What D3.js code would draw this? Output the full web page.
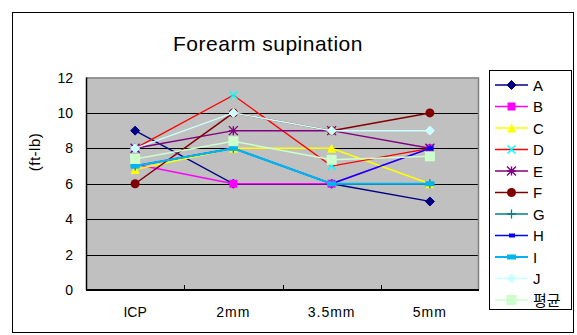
<!DOCTYPE html>
<html><head><meta charset="utf-8">
<script src="https://cdn.jsdelivr.net/npm/d3@7"></script>
<style>
body{margin:0;background:#fff;}
text{font-family:"Liberation Sans","Noto Sans CJK KR",Arial,sans-serif;fill:#000;}
</style></head>
<body><svg id="c" width="577" height="335"></svg>
<script>
const categories = ["ICP","2mm","3.5mm","5mm"];
const seriesNames = ["A","B","C","D","E","F","G","H","I","J","평균"];
const A = [9, 6, 6, 5];
const B = [7.1, 6, 6, 8];
const C = [6.8, 8, 8, 6];
const D = [8, 11, 7, 8];
const E = [8, 9, 9, 8];
const F = [6, 10, 9, 10];
const G = [7, 8, 6, 6];
const H = [7, 8, 6, 8];
const I = [7, 8, 6, 6];
const J = [8, 10, 9, 9];
const AVG = [7.4, 8.4, 7.35, 7.55];
const yTicks = [0, 2, 4, 6, 8, 10, 12];

const values = [A,B,C,D,E,F,G,H,I,J,AVG];
const styles = [
  {line:"#000080", mk:"diamond", fill:"#000080", stroke:"#000080", size:9, w:1.3},
  {line:"#FF00FF", mk:"square", fill:"#FF00FF", stroke:"#FF00FF", size:8, w:1.5},
  {line:"#FFFF00", mk:"triangle", fill:"#FFFF00", stroke:"#FFFF00", size:9, w:1.5},
  {line:"#FF0000", mk:"x", fill:"none", stroke:"#00FFFF", size:8, w:1.3},
  {line:"#800080", mk:"star", fill:"none", stroke:"#800080", size:9, w:1.5},
  {line:"#800000", mk:"circle", fill:"#800000", stroke:"#800000", size:9, w:1.5},
  {line:"#008080", mk:"plus", fill:"none", stroke:"#008080", size:9, w:1.3},
  {line:"#0000FF", mk:"smallsq", fill:"#0000FF", stroke:"#0000FF", size:5, w:1.5},
  {line:"#00B4F0", mk:"rect", fill:"#00B4F0", stroke:"#00B4F0", size:9, w:2.2},
  {line:"#CCFFFF", mk:"diamond", fill:"#CCFFFF", stroke:"#CCFFFF", size:9, w:1.5},
  {line:"#CCFFCC", mk:"square", fill:"#CCFFCC", stroke:"#CCFFCC", size:10, w:1.5}
];

const svg = d3.select("#c");
svg.append("rect").attr("x",12.5).attr("y",12.5).attr("width",561).attr("height",320)
  .attr("fill","#fff").attr("stroke","#000").attr("stroke-width",1);

const L = 86, R = 479, T = 77.5, Bm = 290;
const x = d3.scalePoint().domain(categories).range([L, R]).padding(0.5);
const xb = d3.scaleBand().domain(categories).range([L, R]);
const y = d3.scaleLinear().domain([0, 12]).range([Bm, T]);

svg.append("rect").attr("x",L).attr("y",T).attr("width",R-L).attr("height",Bm-T).attr("fill","#C0C0C0");
svg.append("g").selectAll("line").data(yTicks.filter(d=>d>0 && d<12)).join("line")
  .attr("x1",L).attr("x2",R).attr("y1",d=>Math.round(y(d))+0.5).attr("y2",d=>Math.round(y(d))+0.5)
  .attr("stroke","#000").attr("stroke-width",1);
svg.append("path").attr("d",`M${L},${T+0.5}H${R-0.5}V${Bm}`).attr("fill","none").attr("stroke","#808080").attr("stroke-width",1.5);
svg.append("line").attr("x1",L+0.5).attr("x2",L+0.5).attr("y1",T).attr("y2",Bm).attr("stroke","#000").attr("stroke-width",1.5);
svg.append("line").attr("x1",L).attr("x2",R).attr("y1",Bm).attr("y2",Bm).attr("stroke","#000").attr("stroke-width",2);
svg.append("g").selectAll("line").data(categories.slice(1)).join("line")
  .attr("x1",d=>Math.round(xb(d))+0.5).attr("x2",d=>Math.round(xb(d))+0.5).attr("y1",Bm-5).attr("y2",Bm)
  .attr("stroke","#000");

svg.append("g").selectAll("text").data(yTicks).join("text")
  .attr("x",73).attr("y",d=>y(d)+5).attr("text-anchor","end").attr("font-size",14).text(d=>d);
svg.append("g").selectAll("text").data(categories).join("text")
  .attr("x",d=>x(d)).attr("y",317).attr("text-anchor","middle").attr("font-size",14)
  .attr("letter-spacing",d=>d==="ICP"?0:1).text(d=>d);
svg.append("text").attr("transform","translate(40,152) rotate(-90)").attr("text-anchor","middle")
  .attr("font-size",15).attr("letter-spacing",0.5).text("(ft-lb)");
svg.append("text").attr("x",268).attr("y",51).attr("text-anchor","middle").attr("font-size",21).attr("letter-spacing",0.5).text("Forearm supination");

function marker(g, st, cx, cy){
  const s = st.size, h = s/2;
  if(st.mk==="diamond") g.append("path").attr("d",`M${cx},${cy-h}L${cx+h},${cy}L${cx},${cy+h}L${cx-h},${cy}Z`).attr("fill",st.fill).attr("stroke",st.stroke);
  else if(st.mk==="square") g.append("rect").attr("x",cx-h).attr("y",cy-h).attr("width",s).attr("height",s).attr("fill",st.fill);
  else if(st.mk==="smallsq") g.append("rect").attr("x",cx-h).attr("y",cy-2).attr("width",s+1).attr("height",4).attr("fill",st.fill);
  else if(st.mk==="rect") g.append("rect").attr("x",cx-h).attr("y",cy-2.5).attr("width",s).attr("height",5).attr("fill",st.fill);
  else if(st.mk==="triangle") g.append("path").attr("d",`M${cx},${cy-h}L${cx+h},${cy+h}L${cx-h},${cy+h}Z`).attr("fill",st.fill);
  else if(st.mk==="circle") g.append("circle").attr("cx",cx).attr("cy",cy).attr("r",h).attr("fill",st.fill);
  else if(st.mk==="x") g.append("path").attr("d",`M${cx-h},${cy-h}L${cx+h},${cy+h}M${cx+h},${cy-h}L${cx-h},${cy+h}`).attr("stroke",st.stroke).attr("stroke-width",1.5);
  else if(st.mk==="plus") g.append("path").attr("d",`M${cx-h},${cy}L${cx+h},${cy}M${cx},${cy-h}L${cx},${cy+h}`).attr("stroke",st.stroke).attr("stroke-width",1.3);
  else if(st.mk==="star") g.append("path").attr("d",`M${cx-h},${cy-h}L${cx+h},${cy+h}M${cx+h},${cy-h}L${cx-h},${cy+h}M${cx},${cy-h}L${cx},${cy+h}M${cx-h},${cy}L${cx+h},${cy}`).attr("stroke",st.stroke).attr("stroke-width",1.4);
}

const line = d3.line().x((d,i)=>x(categories[i])).y(d=>y(d));
const plot = svg.append("g");
values.forEach((vals,si)=>{
  const st = styles[si];
  const g = plot.append("g");
  g.append("path").attr("d",line(vals)).attr("fill","none").attr("stroke",st.line).attr("stroke-width",st.w);
  vals.forEach((v,i)=>marker(g, st, x(categories[i]), y(v)));
});

svg.append("rect").attr("x",489.5).attr("y",70.5).attr("width",82).attr("height",239).attr("fill","#fff").attr("stroke","#000");
const ly = d3.scalePoint().domain(seriesNames).range([85, 300]);
seriesNames.forEach((n,si)=>{
  const st = styles[si];
  const g = svg.append("g");
  const yy = ly(n);
  g.append("line").attr("x1",495).attr("x2",528).attr("y1",yy).attr("y2",yy).attr("stroke",st.line).attr("stroke-width",st.w);
  marker(g, st, 511.5, yy);
  g.append("text").attr("x",533).attr("y",yy+5.5).attr("font-size",15).text(n);
});
</script></body></html>
